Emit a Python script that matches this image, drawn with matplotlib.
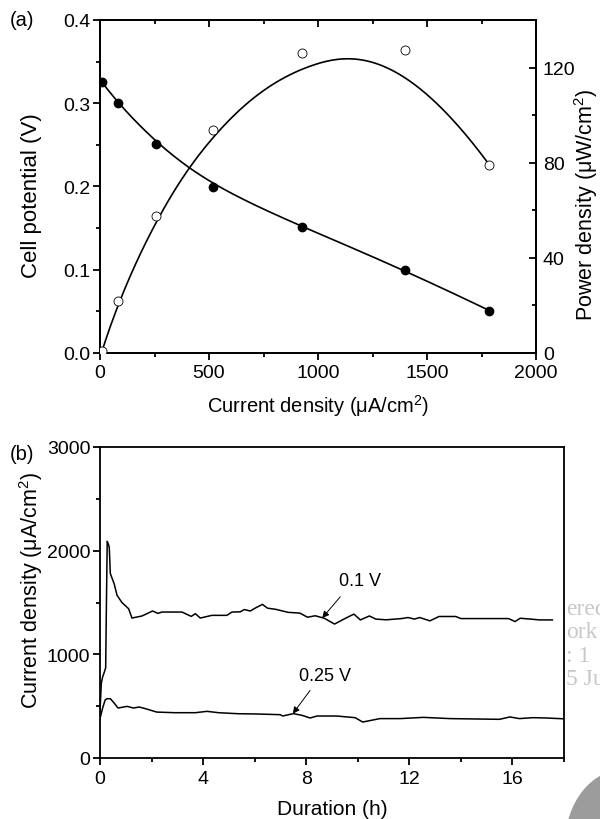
import numpy as np
import matplotlib
matplotlib.use("Agg")
import matplotlib.pyplot as plt
from matplotlib.patches import Ellipse
from matplotlib.ticker import MultipleLocator, NullFormatter

plt.rcParams['font.family'] = ['Liberation Sans', 'DejaVu Sans']
plt.rcParams['mathtext.fontset'] = 'custom'
plt.rcParams['mathtext.rm'] = 'Liberation Sans'

# ---------------- data: panel (a) ----------------
cur_v = [10, 82, 257, 520, 928, 1397, 1786]          # current density, uA/cm2
potential = [0.325, 0.300, 0.251, 0.200, 0.151, 0.100, 0.051]  # V
cur_p = [10, 82, 257, 520, 928, 1397, 1786]
power = [1.0, 21.7, 57.8, 93.8, 126.0, 127.5, 79.1]  # uW/cm2

# ---------------- data: panel (b) ----------------
t_01 = [0.0, 0.05, 0.10, 0.17, 0.22, 0.25, 0.28, 0.33, 0.36, 0.40, 0.55, 0.66,
        0.85, 1.11, 1.24, 1.63, 2.04, 2.25, 2.40, 3.18, 3.54, 3.70, 3.89, 4.34,
        4.92, 5.12, 5.44, 5.60, 5.83, 6.02, 6.30, 6.50, 6.80, 7.30, 7.75, 8.05,
        8.35, 8.70, 9.10, 9.50, 9.85, 10.10, 10.45, 10.70, 11.10, 11.70, 11.95,
        12.20, 12.40, 12.80, 13.15, 13.80, 14.00, 15.85, 16.10, 16.30, 16.70,
        17.05, 17.55]
j_01 = [450, 720, 780, 830, 870, 1500, 2090, 2060, 2030, 1780, 1680, 1570,
        1500, 1440, 1350, 1370, 1418, 1395, 1408, 1408, 1366, 1392, 1350, 1376,
        1376, 1408, 1410, 1432, 1418, 1446, 1482, 1445, 1435, 1405, 1398, 1358,
        1372, 1348, 1292, 1345, 1388, 1332, 1370, 1340, 1333, 1345, 1355,
        1340, 1355, 1323, 1365, 1365, 1345, 1345, 1316, 1348, 1340,
        1332, 1332]

t_025 = [0.0, 0.10, 0.20, 0.27, 0.40, 0.55, 0.70, 1.05, 1.30, 1.52, 1.76, 2.20,
         2.90, 3.70, 4.15, 4.60, 5.37, 6.00, 6.99, 7.09, 7.50, 7.83, 8.15, 8.42,
         9.18, 9.90, 10.19, 10.86, 11.64, 12.54, 13.06, 13.57, 15.50, 15.90,
         16.27, 16.80, 17.30, 18.00]
j_025 = [380, 480, 560, 572, 572, 530, 482, 498, 482, 492, 476, 443,
         437, 437, 450, 437, 427, 425, 418, 405, 428, 412, 386, 405,
         405, 389, 347, 380, 380, 392, 386, 380, 373, 396,
         380, 389, 386, 378]


def bspline(cx, cy, k=3, num=300):
    """Cubic clamped B-spline using the data points as control points."""
    cx = np.asarray(cx, float)
    cy = np.asarray(cy, float)
    n = len(cx)
    inner = np.linspace(0, 1, n - k + 1)[1:-1]
    knots = np.concatenate([np.zeros(k + 1), inner, np.ones(k + 1)])
    u = np.linspace(0, 1, num)
    u[-1] = 1 - 1e-10
    N = np.zeros((num, len(knots) - 1))
    for i in range(len(knots) - 1):
        N[:, i] = ((u >= knots[i]) & (u < knots[i + 1])).astype(float)
    for d in range(1, k + 1):
        Nn = np.zeros((num, len(knots) - 1 - d))
        for i in range(len(knots) - 1 - d):
            a = knots[i + d] - knots[i]
            b = knots[i + d + 1] - knots[i + 1]
            t1 = (u - knots[i]) / a * N[:, i] if a > 0 else 0
            t2 = (knots[i + d + 1] - u) / b * N[:, i + 1] if b > 0 else 0
            Nn[:, i] = t1 + t2
        N = Nn
    return N @ cx, N @ cy


W, H = 600, 820
fig = plt.figure(figsize=(W / 100, H / 100), dpi=100)


def fx(px):
    return px / W


def fy(py):
    return 1 - py / H


SP_LW = 1.3
TICK_FS = 14

# ---------------- panel (a) ----------------
ax = fig.add_axes([fx(100), fy(354), 436 / W, 333 / H])
ax2 = ax.twinx()

sx, sy = bspline(cur_v, potential)
ax.plot(sx, sy, color='black', lw=1.2, zorder=2)
ax.plot(cur_v, potential, 'o', color='black', ms=6, zorder=3)

px, py = bspline(cur_p, power)
ax2.plot(px, py, color='black', lw=1.2, zorder=2)
ax2.plot(cur_p, power, 'o', mfc='white', mec='black', mew=0.6, ms=6.5, zorder=3)

ax.set_xlim(0, 2000)
ax.set_ylim(0, 0.4)
ax2.set_ylim(0, 140)
ax.xaxis.set_major_locator(MultipleLocator(500))
ax.xaxis.set_minor_locator(MultipleLocator(250))
ax.yaxis.set_major_locator(MultipleLocator(0.1))
ax.yaxis.set_minor_locator(MultipleLocator(0.05))
ax2.yaxis.set_major_locator(MultipleLocator(40))
ax2.yaxis.set_minor_locator(MultipleLocator(20))
ax.yaxis.set_major_formatter(plt.FuncFormatter(lambda v, p: f"{v:.1f}"))

ax.tick_params(axis='x', which='both', direction='out', top=False, labelsize=TICK_FS, width=SP_LW)
ax.tick_params(axis='x', which='major', length=5, pad=3)
ax.tick_params(axis='x', which='minor', length=3)
ax.tick_params(axis='y', which='both', direction='out', labelsize=TICK_FS, width=SP_LW)
ax.tick_params(axis='y', which='major', length=5, pad=2)
ax.tick_params(axis='y', which='minor', length=3)
ax2.tick_params(axis='y', which='both', direction='in', labelsize=TICK_FS, width=SP_LW, pad=5)
ax2.tick_params(axis='y', which='major', length=5)
ax2.tick_params(axis='y', which='minor', length=3)

top = ax.secondary_xaxis('top')
top.xaxis.set_major_locator(MultipleLocator(500))
top.xaxis.set_minor_locator(MultipleLocator(250))
top.xaxis.set_major_formatter(NullFormatter())
top.tick_params(axis='x', which='both', direction='in', width=SP_LW)
top.tick_params(axis='x', which='major', length=5)
top.tick_params(axis='x', which='minor', length=3)

for s in list(ax.spines.values()) + list(ax2.spines.values()) + list(top.spines.values()):
    s.set_linewidth(SP_LW)

ax.set_xlabel("Current density (μA/cm$^2$)", fontsize=14.5, labelpad=8)
fig.text(fx(32), fy(196), "Cell potential (V)", fontsize=16, rotation=90,
         ha='center', va='center')
fig.text(fx(586), fy(205), "Power density (μW/cm$^2$)", fontsize=15.5, rotation=90,
         ha='center', va='center')
fig.text(fx(10), fy(20), "(a)", fontsize=14.5, va='center', ha='left')

# ---------------- panel (b) ----------------
bx = fig.add_axes([fx(100), fy(759), 464 / W, 311 / H])
bx.plot(t_01, j_01, color='black', lw=1.1)
bx.plot(t_025, j_025, color='black', lw=1.1)
bx.set_xlim(0, 18)
bx.set_ylim(0, 3000)
bx.xaxis.set_major_locator(MultipleLocator(4))
bx.xaxis.set_minor_locator(MultipleLocator(2))
bx.yaxis.set_major_locator(MultipleLocator(1000))
bx.yaxis.set_minor_locator(MultipleLocator(500))
bx.tick_params(axis='both', which='both', direction='out', labelsize=TICK_FS, width=SP_LW)
bx.tick_params(axis='both', which='major', length=5)
bx.tick_params(axis='both', which='minor', length=3)
bx.tick_params(axis='y', pad=2)
for s in bx.spines.values():
    s.set_linewidth(SP_LW)
bx.set_xlabel("Duration (h)", fontsize=15, labelpad=9)
fig.text(fx(31), fy(590), "Current density (μA/cm$^2$)", fontsize=15.5, rotation=90,
         ha='center', va='center')
fig.text(fx(10), fy(455), "(b)", fontsize=14.5, va='center', ha='left')

arrow = dict(arrowstyle='-|>', color='black', lw=0.7, mutation_scale=10,
             shrinkA=0, shrinkB=0)
bx.annotate("", xy=(8.62, 1350), xytext=(9.32, 1555), arrowprops=arrow)
bx.text(10.1, 1710, "0.1 V", fontsize=13, ha='center', va='center')
bx.annotate("", xy=(7.48, 427), xytext=(8.15, 652), arrowprops=arrow)
bx.text(8.73, 792, "0.25 V", fontsize=13, ha='center', va='center')

# ---------------- watermark fragments at the right edge ----------------
for txt, yy in [("ered", 610), ("ork", 633), (": 1", 656), ("5 Ju", 680)]:
    fig.text(fx(566), fy(yy), txt, fontsize=17, color='#c8c8c8',
             family=['Liberation Serif', 'DejaVu Serif'], va='center', ha='left')
fig.add_artist(Ellipse((fx(625), fy(845)), 120 / W, 150 / H,
                       transform=fig.transFigure, color='#9c9c9c', lw=0))

fig.savefig("out.png", dpi=100)
